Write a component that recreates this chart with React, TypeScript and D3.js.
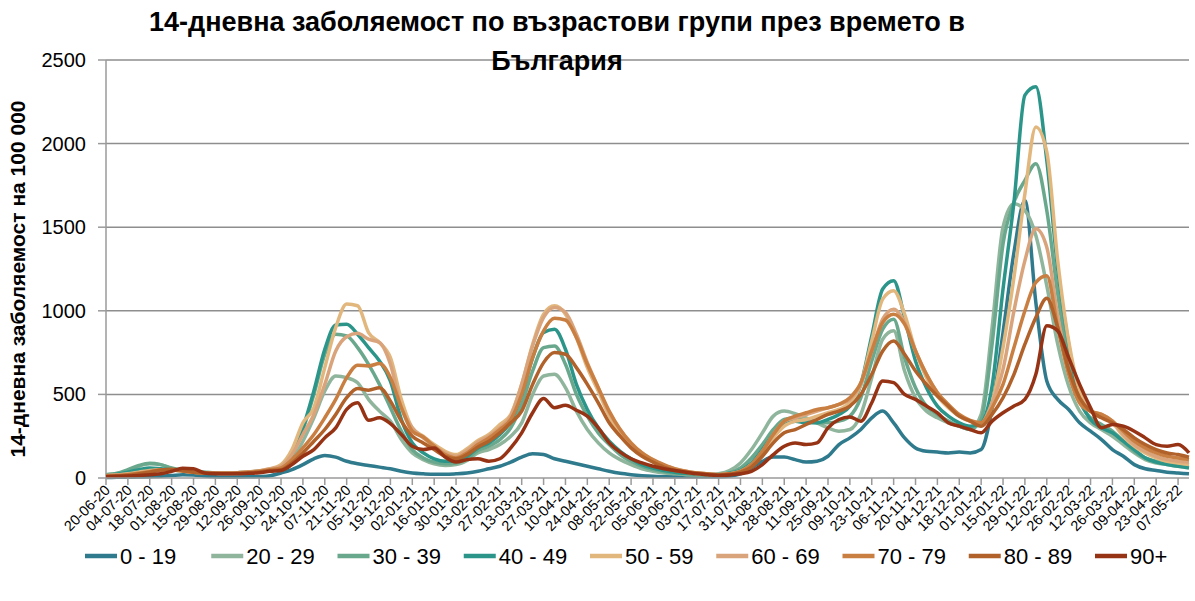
import * as d3 from "d3";

// weekly samples, first one on 20-06-20
const startDate = "20-06-20";

const tickLabels = [
  "20-06-20", "04-07-20", "18-07-20", "01-08-20", "15-08-20", "29-08-20", "12-09-20", "26-09-20",
  "10-10-20", "24-10-20", "07-11-20", "21-11-20", "05-12-20", "19-12-20", "02-01-21", "16-01-21",
  "30-01-21", "13-02-21", "27-02-21", "13-03-21", "27-03-21", "10-04-21", "24-04-21", "08-05-21",
  "22-05-21", "05-06-21", "19-06-21", "03-07-21", "17-07-21", "31-07-21", "14-08-21", "28-08-21",
  "11-09-21", "25-09-21", "09-10-21", "23-10-21", "06-11-21", "20-11-21", "04-12-21", "18-12-21",
  "01-01-22", "15-01-22", "29-01-22", "12-02-22", "26-02-22", "12-03-22", "26-03-22", "09-04-22",
  "23-04-22", "07-05-22",
];

const yTicks = [0, 500, 1000, 1500, 2000, 2500];

const groups = ["0 - 19", "20 - 29", "30 - 39", "40 - 49", "50 - 59", "60 - 69", "70 - 79", "80 - 89", "90+"];
const colors = ["#2f7b8d", "#8fb59c", "#6aa88d", "#2b958a", "#e2b77e", "#d9a47c", "#c97f42", "#b1612a", "#973315"];

const age0_19 = [
  3, 4, 5, 6, 8, 10, 15, 20, 18, 12, 8, 6, 6, 7, 9, 14,
  30, 50, 80, 115, 135, 125, 100, 85, 75, 65, 55, 40, 30, 25, 22, 22, 25, 30,
  40, 55, 70, 95, 125, 145, 140, 115, 100, 85, 70, 55, 40, 28, 20, 14, 10, 8, 8, 7, 7, 7,
  8, 12, 25, 60, 100, 125, 125, 110, 95, 100, 130, 200, 240, 290, 360, 400, 330, 240, 180, 160, 155, 150, 155, 150,
  170, 420, 870, 1350, 1660, 1050, 580, 470, 410, 330, 280, 230, 170, 130, 80, 55, 45, 35, 30, 25,
];
const age20_29 = [
  20, 25, 40, 70, 85, 80, 55, 45, 40, 35, 30, 30, 32, 35, 40, 50,
  60, 110, 220, 360, 520, 610, 600, 570, 470, 400, 340, 230, 150, 110, 85, 75, 80, 105,
  150, 170, 200, 250, 330, 500, 610, 620, 540, 400, 290, 210, 150, 110, 80, 55, 40, 30, 25, 20, 18, 18,
  25, 45, 90, 170, 270, 370, 400, 385, 360, 330, 300, 280, 290, 380, 600, 830, 880, 640, 480, 400, 360, 330, 310, 290,
  380, 900, 1500, 1640, 1600, 1450, 1150, 800, 550, 400, 330, 290, 250, 200, 150, 110, 90, 80, 70, 65,
];
const age30_39 = [
  20, 28, 50, 75, 88, 80, 60, 48, 40, 35, 30, 30, 32, 35, 40, 50,
  70, 140, 290, 500, 740, 860, 850, 780, 680, 560, 420, 280, 170, 120, 95, 85, 90, 115,
  165, 190, 230, 300, 440, 640, 780, 790, 680, 500, 370, 270, 200, 140, 100, 70, 50, 38, 30, 25, 22, 20,
  20, 30, 60, 120, 200, 290, 350, 360, 340, 330, 330, 340, 370, 480, 700, 890, 950, 720, 540, 430, 380, 340, 310, 290,
  350, 800, 1400, 1650, 1780, 1880, 1600, 1100, 700, 460, 360, 320, 280, 220, 160, 120, 100, 85, 75, 70,
];
const age40_49 = [
  18, 22, 35, 50, 60, 55, 48, 42, 36, 32, 30, 30, 32, 35, 40, 50,
  70, 140, 300, 520, 770, 915, 920, 860, 780, 700, 580, 350, 210, 150, 115, 100, 100, 130,
  180, 210, 260, 340, 500, 720, 870, 890, 770, 560, 410, 300, 220, 160, 115, 80, 60, 45, 35, 28, 24, 22,
  20, 28, 45, 90, 170, 260, 320, 340, 330, 330, 350, 380, 430, 560, 850, 1130, 1180, 960, 700, 540, 430, 370, 330, 310,
  330, 550, 1130, 1650, 2290, 2340, 1900, 1250, 800, 480, 350, 300, 270, 220, 170, 120, 95, 80, 70, 60,
];
const age50_59 = [
  15, 18, 25, 35, 45, 50, 48, 42, 35, 32, 30, 30, 32, 36, 42, 55,
  80, 170, 330, 420, 660, 900, 1040, 1030, 870, 810, 720, 470, 300, 250, 200, 160, 140, 175,
  225, 260, 320, 380, 560, 800, 980, 1030, 980, 840, 660, 520, 370, 270, 190, 140, 100, 70, 50, 35, 25, 22,
  20, 25, 40, 80, 150, 240, 310, 340, 350, 370, 390, 410, 450, 560, 820, 1070, 1120, 980, 760, 600, 490, 420, 370, 340,
  330, 450, 780, 1200, 1700, 2100, 1950, 1300, 820, 520, 400, 370, 330, 250, 190, 150, 120, 100, 90, 80,
];
const age60_69 = [
  15, 18, 22, 30, 40, 48, 48, 42, 35, 32, 30, 30, 32, 36, 42, 55,
  70, 140, 260, 380, 560, 760, 845, 865, 830, 810, 680, 420, 300, 240, 190, 150, 130, 165,
  215, 250, 300, 370, 560, 790, 960, 1020, 990, 860, 690, 540, 390, 290, 200, 150, 105, 75, 55, 40, 30, 25,
  20, 25, 40, 80, 160, 260, 340, 360, 380, 400, 420, 440, 470, 560, 760, 950, 1010, 930, 760, 620, 510, 430, 370, 340,
  330, 450, 650, 1000, 1300, 1490, 1380, 970, 650, 450, 400, 380, 340, 260, 200, 160, 130, 110, 100, 95,
];
const age70_79 = [
  12, 15, 20, 28, 38, 48, 50, 42, 35, 30, 28, 28, 30, 34, 40, 50,
  60, 110, 180, 260, 360, 470, 600, 675, 670, 685, 600, 420, 280, 245, 190, 140, 120, 150,
  200, 240, 290, 350, 500, 720, 880, 955, 945, 840, 680, 540, 400, 290, 210, 150, 110, 80, 55, 40, 30, 25,
  20, 25, 40, 80, 160, 260, 340, 370, 390, 410, 420, 440, 480, 570, 760, 930, 980, 920, 760, 620, 510, 440, 380, 345,
  330, 420, 560, 780, 1000, 1170, 1210, 900, 620, 450, 400, 380, 340, 280, 220, 180, 150, 130, 120, 110,
];
const age80_89 = [
  10, 12, 16, 25, 35, 48, 52, 44, 35, 30, 28, 27, 28, 30, 36, 45,
  50, 90, 150, 220, 290, 380, 480, 535, 525, 540, 460, 340, 250, 210, 170, 130, 115, 140,
  185, 220, 270, 330, 400, 560, 690, 750, 740, 660, 560, 450, 330, 250, 180, 130, 95, 65, 45, 35, 28, 22,
  18, 22, 35, 65, 130, 210, 270, 290, 320, 350, 380, 400, 430, 500, 620, 760, 820, 740, 640, 560, 490, 430, 370, 340,
  310, 380, 480, 620, 800, 960, 1075, 900, 650, 480, 400, 360, 330, 290, 240, 200, 170, 150, 140, 125,
];
const age90plus = [
  8, 10, 12, 15, 20, 25, 40, 58, 55, 30, 26, 25, 25, 28, 32, 40,
  45, 80, 130, 170, 240, 300, 410, 450, 345, 360, 325, 260, 190, 170, 180, 125, 95, 110,
  115, 100, 115, 180, 270, 390, 475, 420, 435, 405, 370, 300, 210, 155, 115, 90, 70, 55, 45, 35, 25, 20,
  15, 18, 25, 40, 80, 140, 190, 210, 200, 210, 300, 350, 365, 340, 450, 580, 570, 500, 470, 430, 390, 330, 310, 290,
  270, 340, 390, 430, 470, 620, 910, 880, 720, 560, 420, 300, 320, 310, 280, 240, 200, 190, 200, 150,
];

const series = [age0_19, age20_29, age30_39, age40_49, age50_59, age60_69, age70_79, age80_89, age90plus];

const font = "'Liberation Sans', Arial, sans-serif";

export default function App() {
  const width = 1195;
  const height = 601;
  const margin = { top: 60, right: 6, bottom: 123, left: 106 };

  const parse = d3.timeParse("%d-%m-%y");
  const t0 = parse(startDate) as Date;
  const dates = age0_19.map((_, i) => d3.timeDay.offset(t0, 7 * i));
  const ticks = tickLabels.map((s) => parse(s) as Date);

  const x = d3.scaleTime()
    .domain([t0, dates[dates.length - 1]])
    .range([margin.left, width - margin.right]);
  const y = d3.scaleLinear()
    .domain([0, 2500])
    .range([height - margin.bottom, margin.top]);

  const line = d3.line<number>()
    .x((_, i) => x(dates[i]))
    .y((d) => y(d))
    .curve(d3.curveMonotoneX);

  const y0 = y(0);
  const legendY = 556;

  return (
    <svg width={width} height={height} style={{ position: "absolute", left: 0, top: 0, background: "#fff" }}>
      {/* gridlines */}
      {yTicks.filter((t) => t > 0).map((t) => (
        <line key={t} x1={margin.left} x2={width - margin.right} y1={y(t)} y2={y(t)} stroke="#8e8e8e" strokeWidth={1.5} />
      ))}
      {/* y axis */}
      <line x1={margin.left} x2={margin.left} y1={y(2500)} y2={y0} stroke="#9a9a9a" strokeWidth={1.5} />
      {yTicks.map((t) => (
        <g key={t}>
          <line x1={margin.left - 8} x2={margin.left} y1={y(t)} y2={y(t)} stroke="#9a9a9a" strokeWidth={1.5} />
          <text x={86} y={y(t)} dy="0.35em" textAnchor="end" fontFamily={font} fontSize={20} fill="#000">{t}</text>
        </g>
      ))}

      {/* lines */}
      {series.map((s, k) => (
        <path key={groups[k]} d={line(s) ?? ""} fill="none" stroke={colors[k]} strokeWidth={3.5} strokeLinejoin="round" />
      ))}

      {/* x axis */}
      <line x1={margin.left} x2={width - margin.right} y1={y0} y2={y0} stroke="#9a9a9a" strokeWidth={1.5} />
      {ticks.map((d, i) => (
        <g key={i} transform={`translate(${x(d)},${y0})`}>
          <line y1={0} y2={7} stroke="#9a9a9a" strokeWidth={1.5} />
          <text transform="translate(5,13) rotate(-45)" textAnchor="end" fontFamily={font} fontSize={14.5} fill="#000">
            {tickLabels[i]}
          </text>
        </g>
      ))}

      {/* y label */}
      <text transform={`translate(25,${(y(2500) + y0) / 2 + 10}) rotate(-90)`} textAnchor="middle" fontFamily={font} fontSize={21} fontWeight="bold" fill="#000">
        14-дневна заболяемост на 100 000
      </text>

      {/* title */}
      <text x={557} y={31} textAnchor="middle" fontFamily={font} fontSize={27} fontWeight="bold" fill="#000">
        14-дневна заболяемост по възрастови групи през времето в
      </text>
      <text x={557} y={70} textAnchor="middle" fontFamily={font} fontSize={27} fontWeight="bold" fill="#000">
        България
      </text>

      {/* legend */}
      {groups.map((g, k) => {
        const lx = 85 + k * 126.25;
        return (
          <g key={g}>
            <line x1={lx} x2={lx + 32} y1={legendY} y2={legendY} stroke={colors[k]} strokeWidth={4.5} />
            <text x={lx + 35} y={legendY} dy="0.35em" fontFamily={font} fontSize={22} fill="#000">{g}</text>
          </g>
        );
      })}
    </svg>
  );
}
